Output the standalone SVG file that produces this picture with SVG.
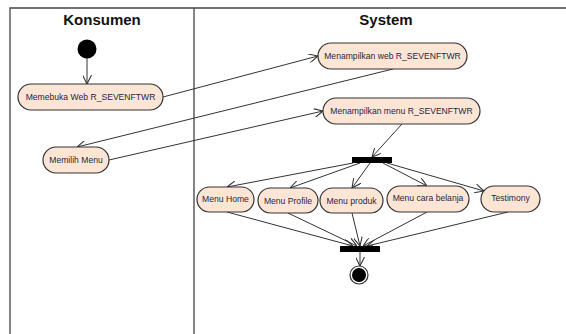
<svg xmlns="http://www.w3.org/2000/svg" width="566" height="334" viewBox="0 0 566 334">
<defs>
<marker id="arr" viewBox="0 0 10 10" refX="10" refY="5" markerWidth="9" markerHeight="9" markerUnits="userSpaceOnUse" orient="auto">
<path d="M0,0 L10,5 L0,10" fill="none" stroke="#333" stroke-width="1.2"/>
</marker>
<style>
.lane{fill:none;stroke:#444;stroke-width:1.3}
.hdr{font-family:"Liberation Sans",Arial,sans-serif;font-weight:bold;font-size:15px;fill:#111;text-anchor:middle}
.act{fill:#fde5d5;stroke:#333;stroke-width:1.2}
.lbl{font-family:"Liberation Sans",Arial,sans-serif;font-size:8.6px;fill:#262640;text-anchor:middle}
.bar{fill:#000}
.c{fill:none;stroke:#333;stroke-width:1;marker-end:url(#arr)}
</style>
</defs>
<g id="swimlanes">
<path class="lane" d="M10,334 V8 H566 M194,8 V334"/>
<text class="hdr" x="102" y="25">Konsumen</text>
<text class="hdr" x="386" y="25">System</text>
</g>
<g id="connectors">
<line class="c" x1="87" y1="58" x2="87" y2="84"/>
<line class="c" x1="163" y1="97" x2="318" y2="56"/>
<line class="c" x1="393" y1="69" x2="77" y2="147"/>
<line class="c" x1="109" y1="160" x2="323" y2="111"/>
<line class="c" x1="402" y1="124" x2="372" y2="157"/>
<line class="c" x1="353" y1="163" x2="227" y2="187"/>
<line class="c" x1="360" y1="163" x2="290" y2="188"/>
<line class="c" x1="370" y1="163" x2="352" y2="188"/>
<line class="c" x1="383" y1="163" x2="427" y2="186"/>
<line class="c" x1="387" y1="163" x2="484" y2="191"/>
<line class="c" x1="227" y1="212" x2="353" y2="246"/>
<line class="c" x1="288" y1="213" x2="357" y2="246"/>
<line class="c" x1="352" y1="213" x2="360" y2="246"/>
<line class="c" x1="427" y1="212" x2="363" y2="246"/>
<line class="c" x1="508" y1="212" x2="367" y2="246"/>
<line class="c" x1="360" y1="252" x2="360" y2="266"/>
</g>
<g id="start"><circle cx="87" cy="49" r="9.5" fill="#000"/></g>
<g id="memebuka"><rect class="act" x="18" y="84" width="145" height="26" rx="13"/><text class="lbl" x="90.5" y="100">Memebuka Web R_SEVENFTWR</text></g>
<g id="menampilkan-web"><rect class="act" x="318" y="43" width="149" height="26" rx="13"/><text class="lbl" x="392.5" y="59">Menampilkan web R_SEVENFTWR</text></g>
<g id="menampilkan-menu"><rect class="act" x="323" y="98" width="157" height="26" rx="13"/><text class="lbl" x="401.5" y="114">Menampilkan menu R_SEVENFTWR</text></g>
<g id="memilih-menu"><rect class="act" x="43" y="147" width="66" height="26" rx="13"/><text class="lbl" x="76" y="163">Memilih Menu</text></g>
<g id="fork"><rect class="bar" x="352" y="157" width="40" height="6"/></g>
<g id="menu-home"><rect class="act" x="197" y="187" width="57" height="25" rx="12.5"/><text class="lbl" x="225.5" y="202">Menu Home</text></g>
<g id="menu-profile"><rect class="act" x="258" y="188" width="60" height="25" rx="12.5"/><text class="lbl" x="288" y="204">Menu Profile</text></g>
<g id="menu-produk"><rect class="act" x="320" y="188" width="63" height="25" rx="12.5"/><text class="lbl" x="351.5" y="204">Menu produk</text></g>
<g id="menu-cara-belanja"><rect class="act" x="387" y="186" width="82" height="26" rx="13"/><text class="lbl" x="428" y="201">Menu cara belanja</text></g>
<g id="testimony"><rect class="act" x="481" y="186" width="59" height="26" rx="13"/><text class="lbl" x="510.5" y="201">Testimony</text></g>
<g id="join"><rect class="bar" x="340" y="246" width="40" height="6"/></g>
<g id="end"><circle cx="359" cy="275" r="9" fill="#fff" stroke="#333" stroke-width="1.2"/><circle cx="359" cy="275" r="7" fill="#000"/></g>
</svg>
